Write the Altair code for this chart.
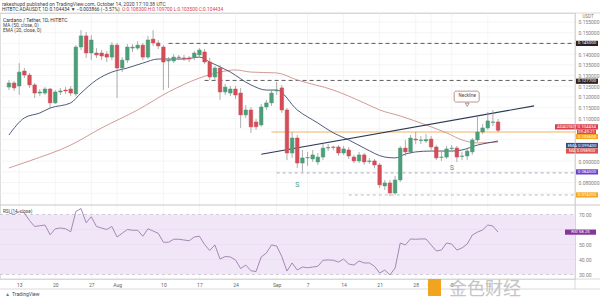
import altair as alt
import pandas as pd

# ---------------- data ----------------
first_day = "2020-07-11"
opens = [0.1246, 0.1265, 0.1251, 0.1321, 0.1302, 0.1256, 0.1218, 0.1218, 0.1237, 0.1172,
         0.1223, 0.1232, 0.1237, 0.1214, 0.1433, 0.1485, 0.1405, 0.1405, 0.1405, 0.1400,
         0.1386, 0.1442, 0.1335, 0.1372, 0.1428, 0.1428, 0.1442, 0.1386, 0.1470, 0.1452,
         0.1433, 0.1368, 0.1368, 0.1384, 0.1382, 0.1382, 0.1386, 0.1396, 0.1410, 0.1363,
         0.1293, 0.1335, 0.1223, 0.1218, 0.1237, 0.1218, 0.1116, 0.1139, 0.1083, 0.1069,
         0.1153, 0.1172, 0.1228, 0.1242, 0.1139, 0.0938, 0.1008, 0.0891, 0.0915, 0.0910,
         0.0896, 0.0919, 0.0961, 0.0966, 0.0966, 0.0938, 0.0952, 0.0919, 0.0901, 0.0929,
         0.0898, 0.0901, 0.0882, 0.0784, 0.0798, 0.0751, 0.0812, 0.0961, 0.0943, 0.1003,
         0.0996, 0.0994, 0.1003, 0.0966, 0.0917, 0.0919, 0.0959, 0.0961, 0.0922, 0.0924,
         0.0943, 0.0999, 0.1036, 0.1055, 0.1081, 0.1083]
highs = [0.1279, 0.1274, 0.1358, 0.1335, 0.1312, 0.1265, 0.1237, 0.1246, 0.1242, 0.1232,
         0.1242, 0.1246, 0.1251, 0.1442, 0.1512, 0.1503, 0.1489, 0.1428, 0.1419, 0.1414,
         0.1456, 0.1452, 0.1386, 0.1447, 0.1447, 0.1461, 0.1452, 0.1485, 0.1512, 0.1466,
         0.1442, 0.1386, 0.1400, 0.1396, 0.1396, 0.1391, 0.1414, 0.1428, 0.1424, 0.1382,
         0.1344, 0.1349, 0.1260, 0.1251, 0.1251, 0.1242, 0.1162, 0.1153, 0.1097, 0.1167,
         0.1186, 0.1232, 0.1270, 0.1256, 0.1148, 0.1036, 0.1022, 0.0952, 0.0943, 0.0952,
         0.0938, 0.0980, 0.0980, 0.0971, 0.0975, 0.0971, 0.0966, 0.0929, 0.0943, 0.0938,
         0.0915, 0.0910, 0.0891, 0.0812, 0.0812, 0.0831, 0.0971, 0.0999, 0.1022, 0.1036,
         0.1017, 0.1027, 0.1017, 0.0975, 0.0943, 0.0971, 0.0975, 0.0971, 0.0943, 0.0961,
         0.1008, 0.1106, 0.1074, 0.1130, 0.1139, 0.1097]
lows = [0.1232, 0.1228, 0.1209, 0.1288, 0.1242, 0.1195, 0.1204, 0.1209, 0.1148, 0.1167,
        0.1209, 0.1214, 0.1204, 0.1204, 0.1419, 0.1382, 0.1372, 0.1382, 0.1372, 0.1363,
        0.1372, 0.1195, 0.1316, 0.1358, 0.1410, 0.1419, 0.1372, 0.1377, 0.1438, 0.1424,
        0.1232, 0.1242, 0.1358, 0.1372, 0.1368, 0.1363, 0.1372, 0.1386, 0.1354, 0.1279,
        0.1279, 0.1186, 0.1209, 0.1204, 0.1190, 0.1055, 0.1102, 0.1032, 0.1046, 0.1060,
        0.1139, 0.1158, 0.1209, 0.1125, 0.0905, 0.0915, 0.0868, 0.0849, 0.0877, 0.0896,
        0.0882, 0.0905, 0.0947, 0.0952, 0.0924, 0.0929, 0.0910, 0.0891, 0.0891, 0.0882,
        0.0887, 0.0868, 0.0775, 0.0765, 0.0737, 0.0742, 0.0803, 0.0924, 0.0933, 0.0980,
        0.0980, 0.0985, 0.0952, 0.0905, 0.0901, 0.0910, 0.0947, 0.0896, 0.0905, 0.0905,
        0.0929, 0.0989, 0.1027, 0.1046, 0.1064, 0.1035]
closes = [0.1265, 0.1242, 0.1316, 0.1302, 0.1256, 0.1218, 0.1223, 0.1237, 0.1172, 0.1223,
          0.1228, 0.1228, 0.1218, 0.1433, 0.1485, 0.1405, 0.1466, 0.1396, 0.1391, 0.1386,
          0.1442, 0.1335, 0.1372, 0.1433, 0.1433, 0.1442, 0.1386, 0.1466, 0.1452, 0.1438,
          0.1363, 0.1372, 0.1386, 0.1386, 0.1379, 0.1377, 0.1405, 0.1419, 0.1363, 0.1293,
          0.1335, 0.1223, 0.1246, 0.1237, 0.1209, 0.1116, 0.1139, 0.1060, 0.1060, 0.1153,
          0.1172, 0.1218, 0.1232, 0.1139, 0.0938, 0.1008, 0.0891, 0.0915, 0.0917, 0.0929,
          0.0919, 0.0961, 0.0964, 0.0964, 0.0938, 0.0957, 0.0924, 0.0901, 0.0929, 0.0896,
          0.0901, 0.0882, 0.0789, 0.0798, 0.0751, 0.0812, 0.0961, 0.0943, 0.1008, 0.0999,
          0.0999, 0.1001, 0.0966, 0.0915, 0.0919, 0.0957, 0.0961, 0.0919, 0.0924, 0.0947,
          0.0999, 0.1036, 0.1055, 0.1088, 0.1083, 0.1044]
rsi_values = [71, 70, 72, 71, 66, 62, 62.5, 63, 56.5, 60.5,
              61, 60.5, 58.5, 72, 74, 64.5, 68.5, 62, 61, 60,
              62, 55, 57.5, 60, 59.5, 59.5, 55.5, 60.5, 59, 57.5,
              51.5, 51.5, 53.5, 53.5, 53, 52.5, 55, 55.5, 50, 46,
              49.7, 40.3, 42, 41.7, 39.7, 34, 36.3, 32.5, 32, 41.7,
              44.3, 49.7, 49, 42, 32.3, 37.7, 33, 35, 34.5, 35,
              35.5, 39.5, 39.7, 39.5, 38.3, 40.3, 37, 36.3, 39, 37.7,
              37.7, 35.5, 31, 33, 29.7, 34.3, 51, 49.7, 53.7, 53.5,
              53.7, 53.7, 49.7, 45.7, 46.3, 51, 50.3, 46.3, 47.7, 50.3,
              56.3, 58.3, 59.7, 63, 62.3, 58.25]

ma50_days = [0, 4, 12, 18, 25, 31, 37, 41, 44, 47, 52, 56, 63, 69, 72, 76, 81, 85, 88, 91, 95]
ma50_values = [0.0868, 0.0901, 0.0975, 0.1055, 0.1139, 0.1223, 0.1288, 0.1316, 0.1326, 0.1316,
               0.1312, 0.1279, 0.1232, 0.1172, 0.1139, 0.1111, 0.1069, 0.1032, 0.0999, 0.0985,
               0.0989]
ema20_days = [0, 3, 6, 8, 12, 14, 17, 20, 23, 26, 29, 34, 37, 39, 43, 47, 50, 52, 56, 60,
              63, 66, 69, 73, 75, 77, 79, 82, 86, 88, 91, 93, 95]
ema20_values = [0.1022, 0.1102, 0.1125, 0.1148, 0.1172, 0.1218, 0.1279, 0.1316, 0.1335, 0.1358,
                0.1377, 0.1377, 0.1386, 0.1363, 0.1316, 0.1256, 0.1232, 0.1232, 0.1139, 0.1078,
                0.1032, 0.0999, 0.0961, 0.0919, 0.0915, 0.0933, 0.0943, 0.0947, 0.0947, 0.0952,
                0.0975, 0.0985, 0.0994]

tick_dates = ["2020-07-13", "2020-07-20", "2020-07-27", "2020-08-01", "2020-08-10",
              "2020-08-17", "2020-08-24", "2020-09-01", "2020-09-07", "2020-09-14",
              "2020-09-21", "2020-09-28", "2020-10-01", "2020-10-05", "2020-10-12"]
price_ticks = [0.075, 0.080, 0.085, 0.090, 0.095, 0.100, 0.105, 0.110, 0.115, 0.120,
               0.125, 0.130, 0.135, 0.140, 0.145, 0.150, 0.155]
# tick labels that stay visible (the others sit under the coloured price tags)
price_labels = [0.080, 0.090, 0.110, 0.115, 0.120, 0.125, 0.130, 0.135, 0.140, 0.150, 0.155]
rsi_ticks = [30, 40, 50, 60, 70]
rsi_labels_shown = [30, 40, 50, 70]
rsi_band = [30, 70]

level_values = [0.1450, 0.1277, 0.1036, 0.0845, 0.0742]
level_starts = ["2020-08-11", "2020-08-18", "2020-08-31", "2020-09-01", "2020-09-15"]
neck_dates = ["2020-08-29", "2020-10-21"]
neck_values = [0.0932, 0.1158]
s_dates = ["2020-09-05", "2020-10-05"]
s_values = [0.0787, 0.0868]
callout_date = "2020-10-08"
callout_top, callout_bottom, callout_tip = 0.1227, 0.1176, 0.1163
callout_text = "Neckline"

tag_texts = ["0.145000", "0.127700", "ADAUSDT  0.104434", "09:49:21", "0.103600",
             "EMA  0.099400", "MA  0.098900", "0.084500", "0.074200"]
tag_values = [0.1450, 0.1277, 0.1044, 0.1044, 0.1036, 0.0994, 0.0989, 0.0845, 0.0742]
rsi_tag_text, rsi_tag_value = "RSI  58.25", 58.25

header_user = "rakeshupd published on TradingView.com, October 14, 2020 17:10:38 UTC"
header_symbol = "HITBTC:ADAUSDT, 1D  0.104434 \u25bc \u22120.003866 (\u22123.57%)"
header_ohlc = "O:0.108300  H:0.109700  L:0.103500  C:0.104434"
legend_lines = ["Cardano / Tether, 1D, HITBTC", "MA (50, close, 0)", "EMA (20, close, 0)"]

# ---------------- styles ----------------
FONT = "Roboto"
GREEN, RED = "#4c9d78", "#d24d57"
W, H = 575, 266

dates = pd.date_range(first_day, periods=len(closes), freq="D")
candles = pd.DataFrame({"date": dates, "open": opens, "high": highs, "low": lows,
                        "close": closes, "rsi": rsi_values})
ma_df = pd.DataFrame({"date": dates[ma50_days], "v": ma50_values})
ema_df = pd.DataFrame({"date": dates[ema20_days], "v": ema20_values})


def dt(s):
    t = pd.Timestamp(s)
    return alt.DateTime(year=t.year, month=t.month, date=t.day, hours=t.hour, minutes=t.minute)


x_scale = alt.Scale(domain=[dt("2020-07-10 05:41"), dt("2020-10-27 23:18")])
x_axis = alt.Axis(values=[dt(s) for s in tick_dates],
                  labelExpr="date(datum.value) == 1 ? timeFormat(datum.value, '%b') : timeFormat(datum.value, '%-d')",
                  title=None, grid=False, domain=False, ticks=False, labelFontSize=5,
                  labelColor="#666", labelPadding=3, labelOverlap=False, labelFlush=False,
                  labelFont=FONT)


def X(f):
    return alt.X(f"{f}:T", scale=x_scale, axis=x_axis)


p_scale = alt.Scale(domain=[0.0695, 0.1592], range=[192, 0], nice=False, zero=False)
p_axis = alt.Axis(orient="right", values=price_labels, format=".6f", title=None, grid=False,
                  domain=False, ticks=False, labelFontSize=5, labelColor="#808080",
                  labelPadding=3, labelOverlap=False, labelFlush=False, labelFont=FONT)


def PY(f):
    return alt.Y(f"{f}:Q", scale=p_scale, axis=p_axis)


r_scale = alt.Scale(domain=[30, 70], range=[261.5, 201.5], nice=False, zero=False)


def RY(f):
    return alt.Y(f"{f}:Q", scale=r_scale, axis=None)


one = pd.DataFrame({"k": [0]})


def text_at(txt, x, y, size=5, color="#333", align="left", weight="normal", font=FONT):
    return alt.Chart(pd.DataFrame({"t": [txt]})).mark_text(
        align=align, baseline="middle", fontSize=size, color=color, fontWeight=weight, font=font
    ).encode(x=alt.value(x), y=alt.value(y), text="t:N")


def hline(y, x0=0, x1=600, color="#d0d0d0", w=0.8):
    return alt.Chart(one).mark_rule(color=color, strokeWidth=w).encode(
        x=alt.value(x0), x2=alt.value(x1), y=alt.value(y))


def tag(value, label, fill, x0, dy, yfn, x1=598, h=5.2, fs=4.4, tcolor="white"):
    df = pd.DataFrame({"v": [value], "t": [label]})
    b = alt.Chart(df)
    r = b.mark_rect(color=fill, yOffset=dy - h / 2, y2Offset=dy + h / 2).encode(
        x=alt.value(x0), x2=alt.value(x1), y=yfn("v"), y2="v:Q")
    t = b.mark_text(align="center", baseline="middle", dy=dy, fontSize=fs, color=tcolor,
                    font=FONT).encode(x=alt.value((x0 + x1) / 2), y=yfn("v"), text="t:N")
    return [r, t]


# ---------------- price panel ----------------
vgrid = alt.Chart(pd.DataFrame({"d": pd.to_datetime(tick_dates)})).mark_rule(
    color="#efefef", strokeWidth=0.6).encode(x=X("d"), y=alt.value(0), y2=alt.value(H))
hgrid = alt.Chart(pd.DataFrame({"v": price_ticks})).mark_rule(
    color="#efefef", strokeWidth=0.6).encode(x=alt.value(0), x2=alt.value(W), y=PY("v"))

level_styles = [("#333333", [4, 3], 0.8), ("#333333", [4, 3], 0.8), ("#f0a040", [1, 0], 0.9),
                ("#9a94ad", [3, 3], 0.8), ("#a8a8a8", [3, 3], 0.8)]
levels = []
for val, start, (col, dash, w) in zip(level_values, level_starts, level_styles):
    df = pd.DataFrame({"d": [pd.Timestamp(start)], "v": [val]})
    levels.append(alt.Chart(df).mark_rule(color=col, strokeDash=dash, strokeWidth=w).encode(
        x=X("d"), x2=alt.value(W), y=PY("v")))

ma_line = alt.Chart(ma_df).mark_line(color="#c99189", strokeWidth=0.9, interpolate="monotone").encode(
    x=X("date"), y=PY("v"))
ema_line = alt.Chart(ema_df).mark_line(color="#3b4a6b", strokeWidth=0.9, interpolate="monotone").encode(
    x=X("date"), y=PY("v"))
neck = alt.Chart(pd.DataFrame({"date": pd.to_datetime(neck_dates), "v": neck_values})).mark_line(
    color="#2d3a55", strokeWidth=1.1).encode(x=X("date"), y=PY("v"))

up = alt.when(alt.datum.close >= alt.datum.open).then(alt.value(GREEN)).otherwise(alt.value(RED))
wicks = alt.Chart(candles).mark_rule(color="#8c8c8c", strokeWidth=0.7).encode(
    x=X("date"), y=PY("low"), y2="high:Q")
bodies = alt.Chart(candles).mark_bar(width=3.6, strokeWidth=0.5).encode(
    x=X("date"), y=PY("open"), y2="close:Q", color=up, stroke=up)

s_marks = alt.Chart(pd.DataFrame({"date": pd.to_datetime(s_dates), "v": s_values, "t": ["S", "S"]})).mark_text(
    color="#3f9a88", fontSize=7, font=FONT).encode(x=X("date"), y=PY("v"), text="t:N")

cdf = pd.DataFrame({"date": [pd.Timestamp(callout_date)], "top": [callout_top],
                    "bot": [callout_bottom], "tip": [callout_tip], "t": [callout_text]})
c_tri = alt.Chart(cdf).mark_point(shape="triangle-down", size=14, filled=True, fill="white",
                                  stroke="#9a6a66", strokeWidth=0.7, opacity=1).encode(x=X("date"), y=PY("tip"))
c_box = alt.Chart(cdf).mark_rect(fill="white", stroke="#9a6a66", strokeWidth=0.7, cornerRadius=2,
                                 xOffset=-13, x2Offset=12).encode(x=X("date"), x2="date:T", y=PY("top"), y2="bot:Q")
c_txt = alt.Chart(cdf).mark_text(fontSize=4.5, color="#444", font=FONT, dy=0).encode(
    x=X("date"), y=PY("top"), text="t:N", yOffset=alt.value(5))

tag_styles = [("#2a2126", 576, 0, 598), ("#2a2126", 576, 0.8, 598), ("#d9414f", 555, -3.5, 598),
              ("#d9414f", 577, 1.9, 596), ("#f5a623", 576, 4.5, 598), ("#2c4f8c", 566, 4.5, 598),
              ("#d9534f", 566, 8.9, 598), ("#6a3fd0", 576, -1, 598), ("#f5a623", 576, 0, 598)]
tags = []
for val, txt, (fill, x0, dy, x1) in zip(tag_values, tag_texts, tag_styles):
    tags += tag(val, txt, fill, x0, dy, PY, x1=x1)

frame = [hline(0), hline(192, color="#c8c8c8", w=1), hline(H), hline(276),
         alt.Chart(one).mark_rule(color="#d0d0d0", strokeWidth=0.8).encode(
             x=alt.value(W), y=alt.value(0), y2=alt.value(276))]

texts = [text_at(header_user, 2, -9.5, size=5, color="#444"),
         text_at(header_symbol, 2, -3.5, size=4.8, color="#333"),
         text_at(header_ohlc, 122, -3.5, size=4.8, color="#d9414f"),
         text_at(legend_lines[0], 3, 7, size=5, color="#333"),
         text_at(legend_lines[1], 3, 12.5, size=4.8, color="#444"),
         text_at(legend_lines[2], 3, 17.5, size=4.8, color="#444"),
         text_at("USDT", 588, 4, size=4.5, color="#777", align="center"),
         text_at("RSI (14, close)", 3, 199, size=4.6, color="#444"),
         text_at("TradingView", 12, 281, size=5, color="#2d4a6b"),
         text_at("\u25b2", 5, 281, size=5, color="#3d8ad8"),
         text_at("\u91d1\u8272\u8d22\u7ecf", 449, 277, size=18, color="#c4c4c4",
                 font="Noto Sans CJK SC"),
         alt.Chart(one).mark_rect(color="#f2a31f").encode(
             x=alt.value(428), x2=alt.value(441), y=alt.value(266), y2=alt.value(283))]

price_group = alt.layer(vgrid, hgrid, *levels, ma_line, ema_line, neck, wicks, bodies, s_marks,
                        c_tri, c_box, c_txt, *tags, *frame, *texts)

# ---------------- RSI panel ----------------
band = alt.Chart(pd.DataFrame({"lo": [rsi_band[0]], "hi": [rsi_band[1]]})).mark_rect(
    color="#f1e5f8").encode(x=alt.value(0), x2=alt.value(W), y=RY("lo"), y2="hi:Q")
rgrid = alt.Chart(pd.DataFrame({"v": rsi_ticks[1:4]})).mark_rule(color="#e6dbee", strokeWidth=0.6).encode(
    x=alt.value(0), x2=alt.value(W), y=RY("v"))
rdash = alt.Chart(pd.DataFrame({"v": rsi_band})).mark_rule(color="#b9b3c0", strokeWidth=0.6,
                                                          strokeDash=[3, 3]).encode(
    x=alt.value(0), x2=alt.value(W), y=RY("v"))
rsi_line = alt.Chart(candles).mark_line(color="#9b7fa8", strokeWidth=0.9).encode(x=X("date"), y=RY("rsi"))
rsi_labels = alt.Chart(pd.DataFrame({"v": rsi_labels_shown})).mark_text(
    align="left", baseline="middle", fontSize=5, color="#808080", font=FONT).encode(
    x=alt.value(579), y=RY("v"), text=alt.Text("v:Q", format=".2f"))
rsi_tag = tag(rsi_tag_value, rsi_tag_text, "#83379a", 565, 0, RY, x1=596)

rsi_group = alt.layer(band, rgrid, rdash, rsi_line, rsi_labels, *rsi_tag)

chart = alt.layer(price_group, rsi_group).resolve_scale(y="independent").properties(
    width=W, height=H,
    padding={"left": 0, "top": 13, "right": 25, "bottom": 22},
    autosize=alt.AutoSizeParams(type="none"),
).configure_view(stroke=None).configure(font=FONT, background="white")

chart.save("out.html", embed_options={"renderer": "svg", "actions": False})
